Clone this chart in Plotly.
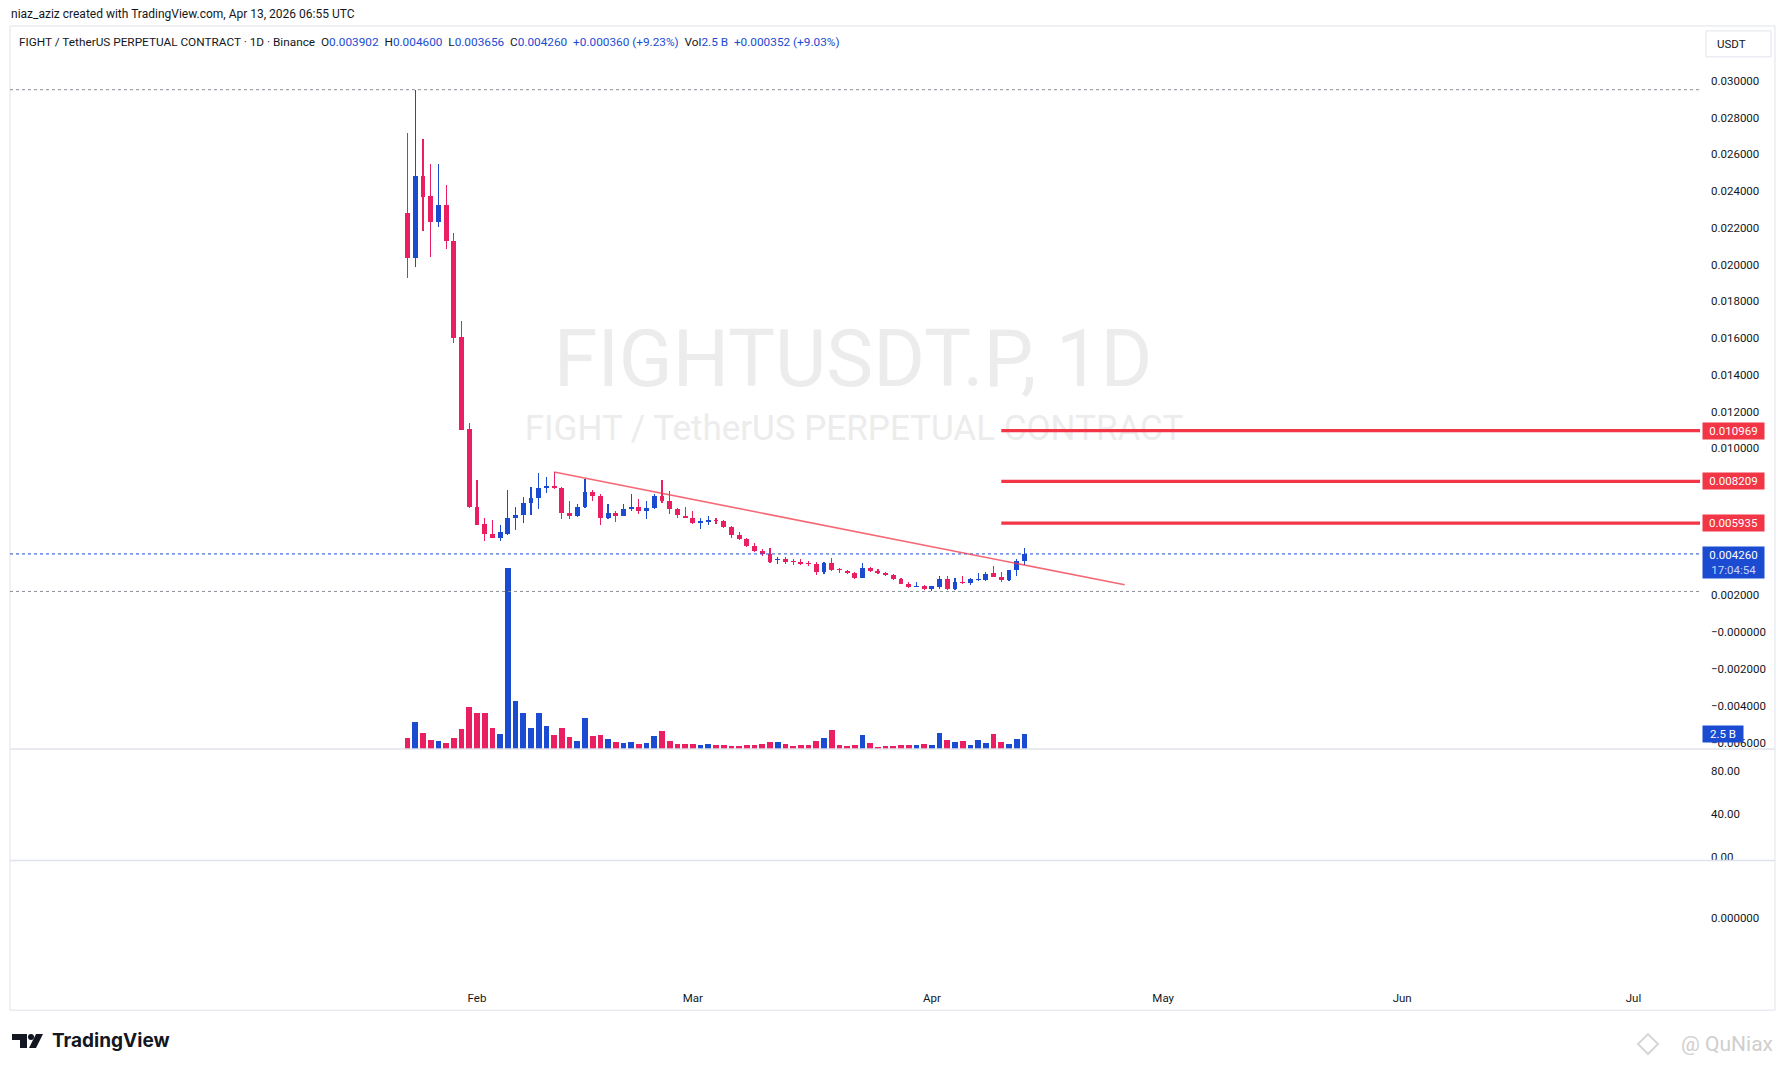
import pandas as pd
import plotly.graph_objects as go

# ---------------- data ----------------
START_DATE = "2026-01-23"
OPEN = [0.02283, 0.02036, 0.02480, 0.02371, 0.02232, 0.02326, 0.02131, 0.01606, 0.01107, 0.00684,
        0.00591, 0.00537, 0.00515, 0.00537, 0.00619, 0.00640, 0.00705, 0.00733, 0.00787, 0.00798,
        0.00785, 0.00647, 0.00631, 0.00682, 0.00765, 0.00740, 0.00620, 0.00651, 0.00635, 0.00673,
        0.00684, 0.00657, 0.00678, 0.00743, 0.00712, 0.00669, 0.00635, 0.00624, 0.00596, 0.00599,
        0.00611, 0.00604, 0.00571, 0.00528, 0.00505, 0.00468, 0.00440, 0.00423, 0.00392, 0.00397,
        0.00389, 0.00382, 0.00377, 0.00369, 0.00327, 0.00374, 0.00346, 0.00335, 0.00322, 0.00295,
        0.00347, 0.00331, 0.00320, 0.00309, 0.00288, 0.00262, 0.00246, 0.00250, 0.00233, 0.00246,
        0.00288, 0.00233, 0.00271, 0.00266, 0.00283, 0.00285, 0.00320, 0.00302, 0.00282, 0.00336,
        0.003902]
HIGH = [0.02717, 0.02952, 0.02684, 0.02545, 0.02545, 0.02435, 0.02174, 0.01693, 0.01139, 0.00830,
        0.00624, 0.00608, 0.00586, 0.00776, 0.00682, 0.00736, 0.00792, 0.00868, 0.00846, 0.00872,
        0.00792, 0.00712, 0.00695, 0.00832, 0.00772, 0.00754, 0.00695, 0.00660, 0.00695, 0.00754,
        0.00727, 0.00716, 0.00754, 0.00830, 0.00767, 0.00677, 0.00682, 0.00657, 0.00619, 0.00635,
        0.00622, 0.00608, 0.00579, 0.00543, 0.00510, 0.00483, 0.00452, 0.00456, 0.00407, 0.00412,
        0.00398, 0.00396, 0.00387, 0.00382, 0.00380, 0.00402, 0.00351, 0.00336, 0.00326, 0.00374,
        0.00356, 0.00342, 0.00326, 0.00315, 0.00293, 0.00271, 0.00271, 0.00257, 0.00252, 0.00305,
        0.00304, 0.00293, 0.00304, 0.00293, 0.00320, 0.00326, 0.00358, 0.00326, 0.00338, 0.00396,
        0.004600]
LOW = [0.01926, 0.01988, 0.02183, 0.02042, 0.02205, 0.02085, 0.01575, 0.01100, 0.00678, 0.00581,
       0.00495, 0.00510, 0.00499, 0.00528, 0.00555, 0.00597, 0.00636, 0.00673, 0.00756, 0.00780,
       0.00615, 0.00615, 0.00628, 0.00678, 0.00712, 0.00582, 0.00618, 0.00601, 0.00633, 0.00662,
       0.00646, 0.00615, 0.00670, 0.00705, 0.00646, 0.00619, 0.00619, 0.00590, 0.00561, 0.00582,
       0.00588, 0.00568, 0.00514, 0.00501, 0.00466, 0.00434, 0.00416, 0.00374, 0.00369, 0.00373,
       0.00364, 0.00364, 0.00358, 0.00311, 0.00315, 0.00334, 0.00320, 0.00315, 0.00288, 0.00293,
       0.00329, 0.00316, 0.00304, 0.00286, 0.00260, 0.00243, 0.00244, 0.00228, 0.00222, 0.00233,
       0.00229, 0.00230, 0.00264, 0.00258, 0.00277, 0.00280, 0.00300, 0.00271, 0.00280, 0.00305,
       0.003656]
CLOSE = [0.02036, 0.02480, 0.02367, 0.02232, 0.02326, 0.02129, 0.01602, 0.01103, 0.00680, 0.00586,
         0.00533, 0.00515, 0.00543, 0.00624, 0.00640, 0.00705, 0.00733, 0.00787, 0.00798, 0.00783,
         0.00647, 0.00631, 0.00682, 0.00765, 0.00740, 0.00620, 0.00651, 0.00635, 0.00673, 0.00684,
         0.00657, 0.00678, 0.00743, 0.00712, 0.00669, 0.00636, 0.00624, 0.00593, 0.00604, 0.00609,
         0.00604, 0.00571, 0.00528, 0.00505, 0.00468, 0.00440, 0.00423, 0.00381, 0.00400, 0.00382,
         0.00384, 0.00369, 0.00371, 0.00327, 0.00374, 0.00336, 0.00338, 0.00320, 0.00293, 0.00347,
         0.00331, 0.00320, 0.00309, 0.00288, 0.00260, 0.00244, 0.00251, 0.00233, 0.00251, 0.00289,
         0.00233, 0.00271, 0.00266, 0.00288, 0.00288, 0.00318, 0.00302, 0.00282, 0.00336, 0.00385,
         0.004260]
VOLUME_B = [1.83, 4.5, 2.67, 1.5, 1.33, 1.0, 1.83, 3.33, 7.0, 6.0,
            6.0, 3.5, 2.5, 30.2, 8.0, 6.0, 3.5, 6.0, 3.83, 2.33,
            3.5, 2.0, 1.33, 5.17, 2.17, 2.33, 1.67, 1.17, 1.0, 1.17,
            0.83, 1.0, 2.17, 3.0, 1.33, 0.83, 0.83, 0.83, 0.67, 0.83,
            0.67, 0.67, 0.5, 0.5, 0.67, 0.67, 0.83, 1.17, 1.17, 0.83,
            0.5, 0.67, 0.67, 1.33, 1.83, 3.17, 0.67, 0.5, 0.67, 2.33,
            1.0, 0.33, 0.5, 0.5, 0.67, 0.67, 0.67, 0.83, 0.67, 2.67,
            1.5, 1.17, 1.33, 0.67, 1.5, 1.0, 2.5, 1.17, 0.83, 1.67,
            2.5]
LEVELS = [0.010969, 0.008209, 0.005935]
LEVEL_START = "2026-04-10"
TREND_START = ("2026-02-11", 0.00872)
TREND_END = ("2026-04-26", 0.00258)
PRICE_TICKS = [0.030 - 0.002 * i for i in range(19)]
MONTH_TICKS = ["2026-02-01", "2026-03-01", "2026-04-01", "2026-05-01", "2026-06-01", "2026-07-01"]
MONTH_LABELS = ["Feb", "Mar", "Apr", "May", "Jun", "Jul"]
PANE2_TICKS = [0, 40, 80]
PANE2_LABELS = ["0.00", "40.00", "80.00"]

# ---------------- geometry helpers (pixel layout) ----------------
W, H = 1785, 1073
def px(x): return x / W
def py(y): return 1 - y / H

FEB1 = pd.Timestamp("2026-02-01")
DAYPX = 7.71
def x_at(p): return FEB1 + pd.Timedelta(days=(p - 477) / DAYPX)
def price_at(p): return (634 - p) / 18430.0
VOL_PX_PER_B = 6.0

RED = "#ea1f62"
BLUE = "#1a4bd1"
TXT = "#131722"
FONT = "Roboto"

dates = pd.date_range(START_DATE, periods=len(CLOSE), freq="D")
colors = [BLUE if c >= o else RED for o, c in zip(OPEN, CLOSE)]
body_base = [min(o, c) for o, c in zip(OPEN, CLOSE)]
body_h = [max(abs(c - o), 1 / 18430.0) for o, c in zip(OPEN, CLOSE)]
wick_h = [h - l for h, l in zip(HIGH, LOW)]
DAY_MS = 86400000

fig = go.Figure()

# watermark
fig.add_trace(go.Scatter(x=[x_at(853)], y=[price_at(367)], mode="text", text=["FIGHTUSDT.P, 1D"],
                         textfont=dict(size=79, color="#ececec", family=FONT), hoverinfo="skip"))
fig.add_trace(go.Scatter(x=[x_at(854)], y=[price_at(432)], mode="text",
                         text=["FIGHT / TetherUS PERPETUAL CONTRACT"],
                         textfont=dict(size=35, color="#ececec", family=FONT), hoverinfo="skip"))

# volume
fig.add_trace(go.Bar(x=dates, y=[v * 1e9 for v in VOLUME_B], yaxis="y2", width=0.74 * DAY_MS,
                     marker=dict(color=colors, line=dict(width=0)), hoverinfo="skip"))
# wicks
fig.add_trace(go.Bar(x=dates, y=wick_h, base=LOW, width=0.15 * DAY_MS,
                     marker=dict(color=colors, line=dict(width=0)), hoverinfo="skip"))
# bodies
fig.add_trace(go.Bar(x=dates, y=body_h, base=body_base, width=0.63 * DAY_MS,
                     marker=dict(color=colors, line=dict(width=0)), hoverinfo="skip"))
# empty panes
fig.add_trace(go.Scatter(x=[None], y=[None], yaxis="y3", hoverinfo="skip"))
fig.add_trace(go.Scatter(x=[None], y=[None], yaxis="y4", hoverinfo="skip"))

def ptxt(v):
    return ("\u2212" if v <= 1e-12 else "") + f"{abs(v):.6f}"

axfont = dict(family=FONT, size=11.5, color=TXT)
fig.update_layout(
    width=W, height=H, margin=dict(l=0, r=0, t=0, b=0),
    paper_bgcolor="white", plot_bgcolor="rgba(0,0,0,0)", showlegend=False,
    barmode="overlay", bargap=0,
    xaxis=dict(type="date", domain=[px(10), px(1700)], range=[x_at(10), x_at(1700)],
               anchor="free", position=py(992), tickvals=MONTH_TICKS, ticktext=MONTH_LABELS,
               showgrid=False, zeroline=False, showline=False, ticks="", tickfont=axfont),
    yaxis=dict(domain=[py(751), py(26)], range=[price_at(751), price_at(26)], side="right",
               anchor="x", tickvals=PRICE_TICKS, ticktext=[ptxt(v) for v in PRICE_TICKS],
               showgrid=False, zeroline=False, showline=False, ticks="", ticklabelstandoff=10,
               tickfont=axfont),
    yaxis2=dict(overlaying="y", range=[0, (751 - 26) / VOL_PX_PER_B * 1e9], visible=False,
                anchor="x", side="right"),
    yaxis3=dict(domain=[py(863), py(751)], range=[(859 - 863) * 40 / 43, (859 - 751) * 40 / 43],
                side="right", anchor="x", tickvals=PANE2_TICKS, ticktext=PANE2_LABELS,
                showgrid=False, zeroline=False, showline=False, ticks="", ticklabelstandoff=10,
                tickfont=axfont),
    yaxis4=dict(domain=[py(985), py(863)], range=[(921 - 985) / 61, (921 - 863) / 61],
                side="right", anchor="x", tickvals=[0], ticktext=["0.000000"],
                showgrid=False, zeroline=False, showline=False, ticks="", ticklabelstandoff=10,
                tickfont=axfont),
)

shapes = []
# frame and separators
shapes.append(dict(type="rect", xref="paper", yref="paper", x0=px(10), x1=px(1775), y0=py(1013), y1=py(26),
                   line=dict(color="#e0e3eb", width=1), layer="below"))
for yy in (751, 863):
    shapes.append(dict(type="line", xref="paper", yref="paper", x0=px(10), x1=px(1775), y0=py(yy), y1=py(yy),
                       line=dict(color="#e0e3eb", width=1.5)))
# high/low/current dotted lines
for val, col in ((max(HIGH), "#8a8d96"), (min(LOW), "#8a8d96"), (CLOSE[-1], BLUE)):
    shapes.append(dict(type="line", xref="paper", yref="y", x0=px(10), x1=px(1700), y0=val, y1=val,
                       line=dict(color=col, width=1, dash="dot")))
# horizontal levels
for lv in LEVELS:
    shapes.append(dict(type="line", xref="x", yref="y", x0=LEVEL_START, x1=x_at(1700), y0=lv, y1=lv,
                       line=dict(color="#f23645", width=3.2)))
# trend line
shapes.append(dict(type="line", xref="x", yref="y", x0=TREND_START[0], y0=TREND_START[1],
                   x1=TREND_END[0], y1=TREND_END[1], line=dict(color="rgba(242,54,69,0.75)", width=1.6)))
# USDT button
shapes.append(dict(type="rect", xref="paper", yref="paper", x0=px(1706), x1=px(1771), y0=py(57), y1=py(31),
                   line=dict(color="#e0e3eb", width=1), fillcolor="white"))
# TradingView logo
def P(x, y): return f"{px(x)},{py(y)}"
shapes.append(dict(type="path", xref="paper", yref="paper",
                   path=f"M {P(12,1037)} L {P(27,1037)} L {P(27,1051)} L {P(20,1051)} L {P(20,1043)} L {P(12,1043)} Z",
                   fillcolor="#131722", line=dict(width=0)))
shapes.append(dict(type="circle", xref="paper", yref="paper", x0=px(28), x1=px(34), y0=py(1043), y1=py(1037),
                   fillcolor="#131722", line=dict(width=0)))
shapes.append(dict(type="path", xref="paper", yref="paper",
                   path=f"M {P(36,1037)} L {P(43,1037)} L {P(36,1051)} L {P(29,1051)} Z",
                   fillcolor="#131722", line=dict(width=0)))
# binance-like diamond watermark
shapes.append(dict(type="path", xref="paper", yref="paper",
                   path=f"M {P(1648,1037)} L {P(1658,1047)} L {P(1648,1057)} L {P(1638,1047)} Z",
                   fillcolor="rgba(0,0,0,0)", line=dict(color="#d6d6d6", width=2)))
fig.update_layout(shapes=shapes)

ann = []
def A(**k):
    base = dict(showarrow=False, xref="paper", yref="paper")
    base.update(k)
    ann.append(base)

A(x=px(9), y=py(14), xanchor="left", yanchor="middle",
  text="niaz_aziz created with TradingView.com, Apr 13, 2026 06:55 UTC",
  font=dict(family=FONT, size=12, color=TXT))

def b(s): return f'<span style="color:{BLUE}">{s}</span>'
sp = "\u00a0\u00a0"
header = ("FIGHT / TetherUS PERPETUAL CONTRACT · 1D · Binance" + sp +
          "O" + b(f"{OPEN[-1]:.6f}") + sp + "H" + b(f"{HIGH[-1]:.6f}") + sp +
          "L" + b(f"{LOW[-1]:.6f}") + sp + "C" + b(f"{CLOSE[-1]:.6f}") + sp +
          b("+0.000360 (+9.23%)") + sp + "Vol" + b(f"{VOLUME_B[-1]:.1f} B") + sp + b("+0.000352 (+9.03%)"))
A(x=px(17), y=py(42), xanchor="left", yanchor="middle", text=header,
  font=dict(family=FONT, size=11.8, color=TXT))

A(x=px(1715), y=py(44), xanchor="left", yanchor="middle", text="USDT",
  font=dict(family=FONT, size=11.5, color=TXT))

for lv in LEVELS:
    ann.append(dict(showarrow=False, xref="paper", yref="y", x=px(1702), y=lv, xanchor="left",
                    yanchor="middle", text=f"{lv:.6f}", bgcolor="#f23645", width=59, height=14,
                    borderpad=1, font=dict(family=FONT, size=11.5, color="white")))
A(x=px(1702), y=py(548), xanchor="left", yanchor="top",
  text=f"{CLOSE[-1]:.6f}<br><span style='color:#c9d4f7'>17:04:54</span>", bgcolor=BLUE,
  width=59, height=29, borderpad=1, font=dict(family=FONT, size=11.5, color="white"))
ann.append(dict(showarrow=False, xref="paper", yref="y2", x=px(1702), y=VOLUME_B[-1] * 1e9,
                xanchor="left", yanchor="middle", text=f"{VOLUME_B[-1]:.1f} B", bgcolor=BLUE,
                width=38, height=14, borderpad=1, font=dict(family=FONT, size=11.5, color="white")))

A(x=px(50), y=py(1043), xanchor="left", yanchor="middle", text="<b>TradingView</b>",
  font=dict(family="Inter", size=19, color="#131722"))
A(x=px(1775), y=py(1047), xanchor="right", yanchor="middle", text="@ QuNiax",
  font=dict(family=FONT, size=21, color="#cfcfcf"))

fig.update_layout(annotations=ann)
fig.write_html(
    "out.html",
    config={"displayModeBar": False, "staticPlot": True},
    post_script=("var gd=document.getElementById('{plot_id}');"
                 "gd.style.position='fixed';gd.style.left='0px';gd.style.top='0px';"
                 "document.documentElement.style.margin='0px';document.documentElement.style.overflow='hidden';"
                 "document.documentElement.style.height='1073px';"
                 "document.body.style.margin='0px';document.body.style.padding='0px';"
                 "document.body.style.overflow='hidden';document.body.style.height='1073px';"),
)
